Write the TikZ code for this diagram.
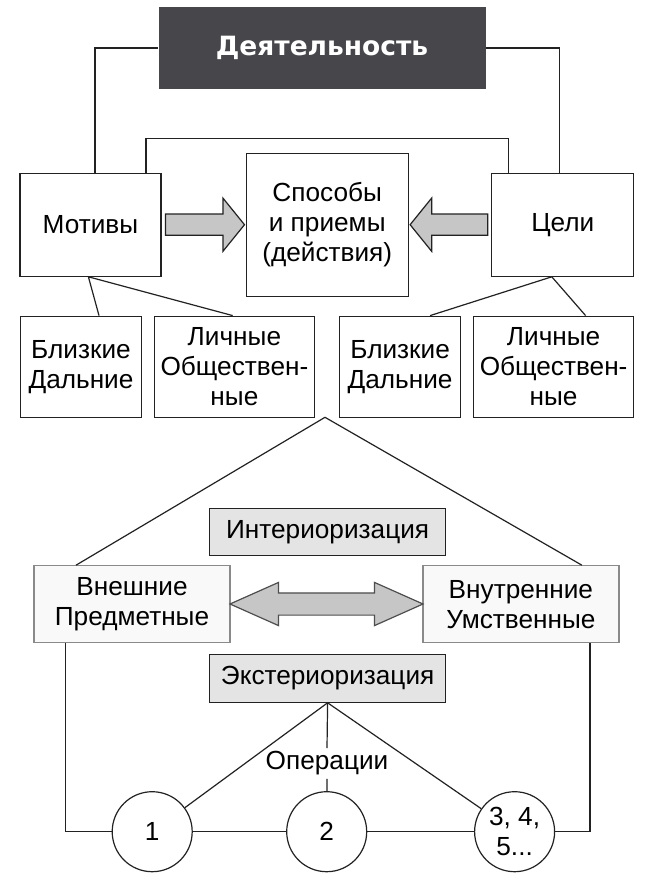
\documentclass[tikz,border=0pt]{standalone}
\usepackage{fontspec}
\setmainfont{Liberation Sans}
\newfontfamily\headfont{DejaVu Sans}
\usepackage{tikz}
\usetikzlibrary{positioning,shapes.geometric,shapes.arrows,calc}
\definecolor{linegray}{HTML}{222222}
\definecolor{headgray}{HTML}{47474B}
\definecolor{tabgray}{HTML}{E4E4E4}
\definecolor{arrowgray}{HTML}{C6C6C6}
\definecolor{boxgray}{HTML}{8A8A8A}
\definecolor{paper}{HTML}{F9F9F9}
\tikzset{
    fatarrow/.style={single arrow,draw=linegray,fill=arrowgray,line width=1.2pt,inner xsep=0pt,inner ysep=10pt,
        single arrow head extend=16pt,single arrow tip angle=102},
    twoarrow/.style={double arrow,draw=linegray!80,fill=arrowgray,line width=1.2pt,inner xsep=0pt,inner ysep=10.5pt,
        double arrow head extend=10.5pt,double arrow tip angle=48}
}
\begin{document}
\begin{tikzpicture}[x=1pt,y=-1pt,font=\fontsize{26.2}{30}\selectfont]
    \useasboundingbox[fill=white] (0,0) rectangle (656,882);
    \begin{scope}[every node/.style={rectangle,draw=linegray,fill=white,line width=1.2pt,align=center,inner sep=0pt}]
        \node[fill=headgray,draw=none,text=white,font=\headfont\bfseries\fontsize{26.5}{30}\selectfont,
            minimum width=327pt,minimum height=82pt] (D) at (322,48) {Деятельность};
        \node[minimum width=141pt,minimum height=103pt] (M) at (90.4,224.7) {Мотивы};
        \node[minimum width=162pt,minimum height=143pt] (S) at (327.2,224.7) {Способы\\и приемы\\(действия)};
        \node[minimum width=142pt,minimum height=103pt] (C) at (562.8,224.7) {Цели};
        \node[minimum width=121pt,minimum height=101pt] (B1) at (81,366.7) {Близкие\\Дальние};
        \node[minimum width=160pt,minimum height=101pt] (L1) at (234.4,366.7) {Личные\\Обществен-\\ные};
        \node[minimum width=121pt,minimum height=101pt] (B2) at (400.1,366.7) {Близкие\\Дальние};
        \node[minimum width=160pt,minimum height=101pt] (L2) at (553.6,366.7) {Личные\\Обществен-\\ные};
        \node[fill=tabgray,minimum width=236pt,minimum height=47pt] (I) at (327.6,532.3) {Интериоризация};
        \node[draw=boxgray,fill=paper,minimum width=196pt,minimum height=77pt] (VE) at (132,604.3) {Внешние\\Предметные};
        \node[draw=boxgray,fill=paper,minimum width=196pt,minimum height=77pt] (VU) at (520.9,604.3) {Внутренние\\Умственные};
        \node[fill=tabgray,minimum width=236pt,minimum height=48pt] (E) at (327.6,678.2) {Экстериоризация};
        \node[circle,minimum size=80pt] (O1) at (152.2,831.7) {1};
        \node[circle,minimum size=80pt] (O2) at (326.7,831.7) {2};
        \node[circle,minimum size=80pt] (O3) at (514.6,831.7) {3, 4,\\5...};
        \node[draw=none,fill=none,inner ysep=3pt] (op) at (327,763.5) {Операции};
    \end{scope}

    \node[fatarrow,minimum height=79pt] (a1) at (200.7,224.7) {};
    \node[fatarrow,shape border rotate=180,minimum height=77.6pt] (a2) at (453.2,224.7) {};
    \node[twoarrow,minimum height=193pt] (a3) at (326.5,604) {};

    \coordinate (top) at (325,417.3);

    \begin{scope}[every path/.style={draw=linegray,line width=1.2pt}]
        \draw (D.west) -| ([xshift=4.5pt]M.north);
        \draw (D.east) -| ([xshift=-3pt]C.north);
        \draw ([xshift=-15.5pt]M.north east) -- ++(0,-34) -| ([xshift=17pt]C.north west);
        \draw ([xshift=18pt]B1.north) -- ([xshift=-2pt]M.south) -- ([xshift=-1.7pt]L1.north);
        \draw ([xshift=30pt]B2.north) -- ([xshift=-11pt]C.south) -- ([xshift=32pt]L2.north);
        \draw ([xshift=-56pt]VE.north) -- (top) -- ([xshift=61pt]VU.north);
        \draw ([xshift=-66.7pt]VE.south) |- (O1);
        \draw ([xshift=69pt]VU.south) |- (O3);
        \path (O1) edge (O2);
        \path (O2) edge (O3);
        \path (E.south) edge (O1);
        \path (E.south) edge (O3);
        \path (E.south) edge (op.north);
        \path (op.south) edge (O2);
    \end{scope}
\end{tikzpicture}
\end{document}
